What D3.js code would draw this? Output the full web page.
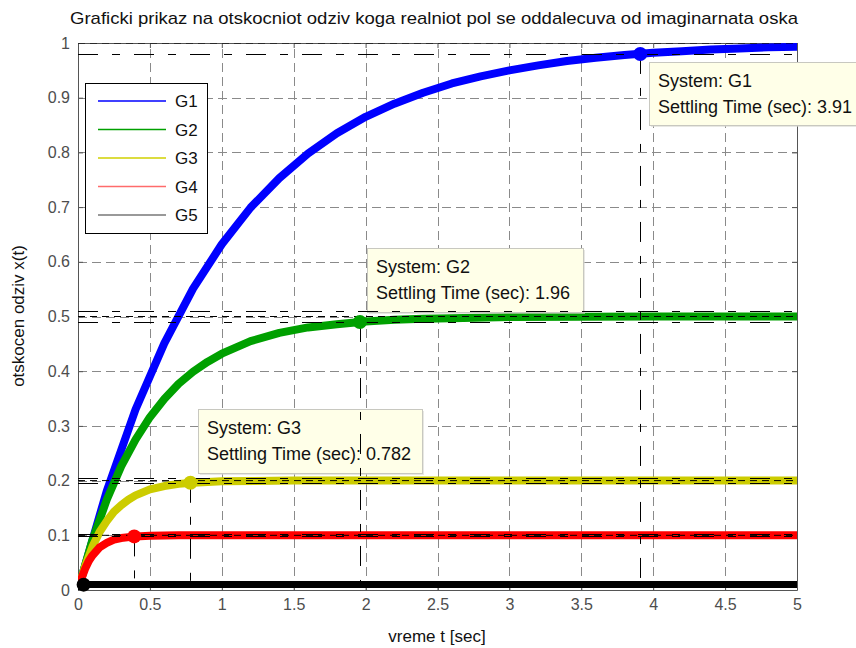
<!DOCTYPE html>
<html><head><meta charset="utf-8">
<script src="https://cdn.jsdelivr.net/npm/d3@7"></script>
<style>body{margin:0;background:#fff}svg{display:block;font-family:"Liberation Sans",Arial,sans-serif}</style>
</head><body><svg id="c" width="856" height="648"></svg>
<script>
const titleText = "Graficki prikaz na otskocniot odziv koga realniot pol se oddalecuva od imaginarnata oska";
const xLabel = "vreme t [sec]";
const yLabel = "otskocen odziv x(t)";
const systems = ["G1", "G2", "G3", "G4", "G5"];
const colors = ["#0000ff", "#00a000", "#cccc00", "#ff0000", "#000000"];
const legendColors = ["#0000ff", "#00a000", "#d0d000", "#ff6b6b", "#777777"];

const t1 = [0,0.2,0.4,0.6,0.8,1.0,1.2,1.4,1.6,1.8,2.0,2.2,2.4,2.6,2.8,3.0,3.2,3.4,3.6,3.8,4.0,4.2,4.4,4.6,4.8,5.0];
const g1 = [0,0.181,0.330,0.451,0.551,0.632,0.699,0.753,0.798,0.835,0.865,0.889,0.909,0.926,0.939,0.950,0.959,0.967,0.973,0.978,0.982,0.985,0.988,0.990,0.992,0.993];
const t2 = [0,0.1,0.2,0.3,0.4,0.5,0.6,0.7,0.8,0.9,1.0,1.2,1.4,1.6,1.8,2.0,2.2,2.4,2.6,3.0,3.5,4.0,5.0];
const g2 = [0,0.091,0.165,0.226,0.275,0.316,0.349,0.377,0.399,0.417,0.432,0.455,0.470,0.480,0.486,0.491,0.494,0.496,0.497,0.499,0.4995,0.500,0.500];
const t3 = [0,0.05,0.1,0.15,0.2,0.25,0.3,0.35,0.4,0.5,0.6,0.7,0.8,1.0,1.5,5.0];
const g3 = [0,0.044,0.079,0.106,0.126,0.143,0.155,0.165,0.173,0.184,0.190,0.194,0.196,0.199,0.200,0.200];
const t4 = [0,0.025,0.05,0.075,0.1,0.15,0.2,0.25,0.3,0.4,0.5,0.7,5.0];
const g4 = [0,0.022,0.039,0.053,0.063,0.078,0.086,0.092,0.095,0.098,0.099,0.100,0.100];
const t5 = [0,0.01,0.02,0.03,0.04,0.06,5.0];
const g5 = [0,0.0063,0.0086,0.0095,0.0098,0.0100,0.0100];

const finalValues = [1, 0.5, 0.2, 0.1, 0.01];
const settlingTimes = [3.91, 1.96, 0.782, 0.391, 0.0391];
const settlingValues = [0.98, 0.49, 0.196, 0.098, 0.0098];
const settlingLabels = ["3.91", "1.96", "0.782"];

const xTicks = [0,0.5,1,1.5,2,2.5,3,3.5,4,4.5,5];
const xTickLabels = ["0","0.5","1","1.5","2","2.5","3","3.5","4","4.5","5"];
const yTicks = [0,0.1,0.2,0.3,0.4,0.5,0.6,0.7,0.8,0.9,1];
const yTickLabels = ["0","0.1","0.2","0.3","0.4","0.5","0.6","0.7","0.8","0.9","1"];

const times = [t1, t2, t3, t4, t5];
const values = [g1, g2, g3, g4, g5];

const svg = d3.select("#c");
const L = 78, R = 797, T = 43, B = 590;
const x = d3.scaleLinear().domain([0, 5]).range([L, R]);
const y = d3.scaleLinear().domain([0, 1]).range([B, T]);

svg.append("defs").append("clipPath").attr("id", "clip")
  .append("rect").attr("x", L).attr("y", T).attr("width", R - L).attr("height", B - T);

// grid
const grid = svg.append("g").attr("stroke", "#8a8a8a").attr("stroke-width", 1).attr("stroke-dasharray", "9,5").attr("fill", "none");
xTicks.slice(1, -1).forEach(v => grid.append("line").attr("x1", Math.round(x(v)) + 0.5).attr("x2", Math.round(x(v)) + 0.5).attr("y1", B).attr("y2", T));
yTicks.slice(1, -1).forEach(v => grid.append("line").attr("y1", Math.round(y(v)) + 0.5).attr("y2", Math.round(y(v)) + 0.5).attr("x1", L).attr("x2", R));

// axes via d3 axis
const axCol = "#555";
const xAx = svg.append("g").attr("transform", `translate(0,${B})`)
  .call(d3.axisBottom(x).tickValues(xTicks).tickFormat((d, i) => xTickLabels[i]).tickSizeInner(-5).tickSizeOuter(0).tickPadding(9));
const yAx = svg.append("g").attr("transform", `translate(${L},0)`)
  .call(d3.axisLeft(y).tickValues(yTicks).tickFormat((d, i) => yTickLabels[i]).tickSizeInner(-5).tickSizeOuter(0).tickPadding(8));
const xTop = svg.append("g").attr("transform", `translate(0,${T})`)
  .call(d3.axisTop(x).tickValues(xTicks).tickFormat("").tickSizeInner(-5).tickSizeOuter(0));
const yRight = svg.append("g").attr("transform", `translate(${R},0)`)
  .call(d3.axisRight(y).tickValues(yTicks).tickFormat("").tickSizeInner(-5).tickSizeOuter(0));
[xAx, yAx, xTop, yRight].forEach(g => {
  g.selectAll("path").attr("stroke", axCol).attr("stroke-width", 1);
  g.selectAll("line").attr("stroke", axCol);
  g.selectAll("text").attr("fill", "#4d4d4d").attr("font-size", 16).attr("font-family", "Liberation Sans, Arial, sans-serif");
});

// curves
const plot = svg.append("g").attr("clip-path", "url(#clip)");
const line = d3.line().x(d => x(d[0])).y(d => y(d[1]));
systems.forEach((s, i) => {
  const pts = times[i].map((t, k) => [t, values[i][k]]);
  plot.append("path").attr("d", line(pts)).attr("fill", "none")
    .attr("stroke", colors[i]).attr("stroke-width", i === 4 ? 7 : 8)
    .attr("stroke-linejoin", "round").attr("stroke-linecap", "round");
});

// datatip boxes
const tipBoxes = [
  {i: 0, x0: 649, y0: 62, w: 216, h: 63},
  {i: 1, x0: 367, y0: 248, w: 216, h: 64},
  {i: 2, x0: 198, y0: 409, w: 224, h: 64}
];
const tipG = svg.append("g");
tipBoxes.forEach(b => {
  tipG.append("rect").attr("x", b.x0 + 2).attr("y", b.y0 + 2).attr("width", b.w).attr("height", b.h).attr("fill", "#d9d9d0").attr("opacity", 0.6);
  tipG.append("rect").attr("x", b.x0 + 0.5).attr("y", b.y0 + 0.5).attr("width", b.w).attr("height", b.h).attr("fill", "#ffffe8").attr("stroke", "#c8c8c0").attr("stroke-width", 1);
  const tx = tipG.append("text").attr("font-size", 18).attr("fill", "#111");
  tx.append("tspan").attr("x", b.x0 + 9).attr("y", b.y0 + 25).text("System: " + systems[b.i]);
  tx.append("tspan").attr("x", b.x0 + 9).attr("y", b.y0 + 51).text("Settling Time (sec): " + settlingLabels[b.i]);
});

// settling-time characteristic lines
const over = svg.append("g").attr("clip-path", "url(#clip)").attr("fill", "none").attr("stroke", "#000").attr("stroke-width", 1);
systems.forEach((s, i) => {
  const f = finalValues[i];
  over.append("line").attr("x1", L).attr("x2", R).attr("y1", y(f)).attr("y2", y(f)).attr("stroke-dasharray", "7,5");
  [0.98, 1.02].forEach(k => over.append("line").attr("x1", L).attr("x2", R)
    .attr("y1", Math.round(y(f * k)) + 0.5).attr("y2", Math.round(y(f * k)) + 0.5).attr("stroke-dasharray", "20,14,8,14"));
  over.append("line").attr("x1", Math.round(x(settlingTimes[i])) + 0.5).attr("x2", Math.round(x(settlingTimes[i])) + 0.5)
    .attr("y1", y(settlingValues[i])).attr("y2", B).attr("stroke-dasharray", "20,14,8,14");
});

// markers
systems.forEach((s, i) => {
  svg.append("circle").attr("cx", x(settlingTimes[i])).attr("cy", y(settlingValues[i])).attr("r", 7).attr("fill", colors[i]);
});

// legend
const lg = svg.append("g");
lg.append("rect").attr("x", 85.5).attr("y", 83.5).attr("width", 122).attr("height", 150).attr("fill", "#fff").attr("stroke", "#000");
systems.forEach((s, i) => {
  const yy = 101 + i * 28.5;
  lg.append("line").attr("x1", 98).attr("x2", 166).attr("y1", yy).attr("y2", yy).attr("stroke", legendColors[i]).attr("stroke-width", 1.5);
  lg.append("text").attr("x", 175).attr("y", yy + 6).attr("font-size", 17).attr("fill", "#111").text(s);
});

// titles
svg.append("text").attr("x", 434).attr("y", 24).attr("text-anchor", "middle").attr("font-size", 17)
  .attr("textLength", 728).attr("lengthAdjust", "spacingAndGlyphs").attr("fill", "#111").text(titleText);
svg.append("text").attr("x", 437).attr("y", 642).attr("text-anchor", "middle").attr("font-size", 17).attr("fill", "#111").text(xLabel);
svg.append("text").attr("transform", "translate(24,316) rotate(-90)").attr("text-anchor", "middle").attr("font-size", 17).attr("fill", "#111").text(yLabel);
</script></body></html>
